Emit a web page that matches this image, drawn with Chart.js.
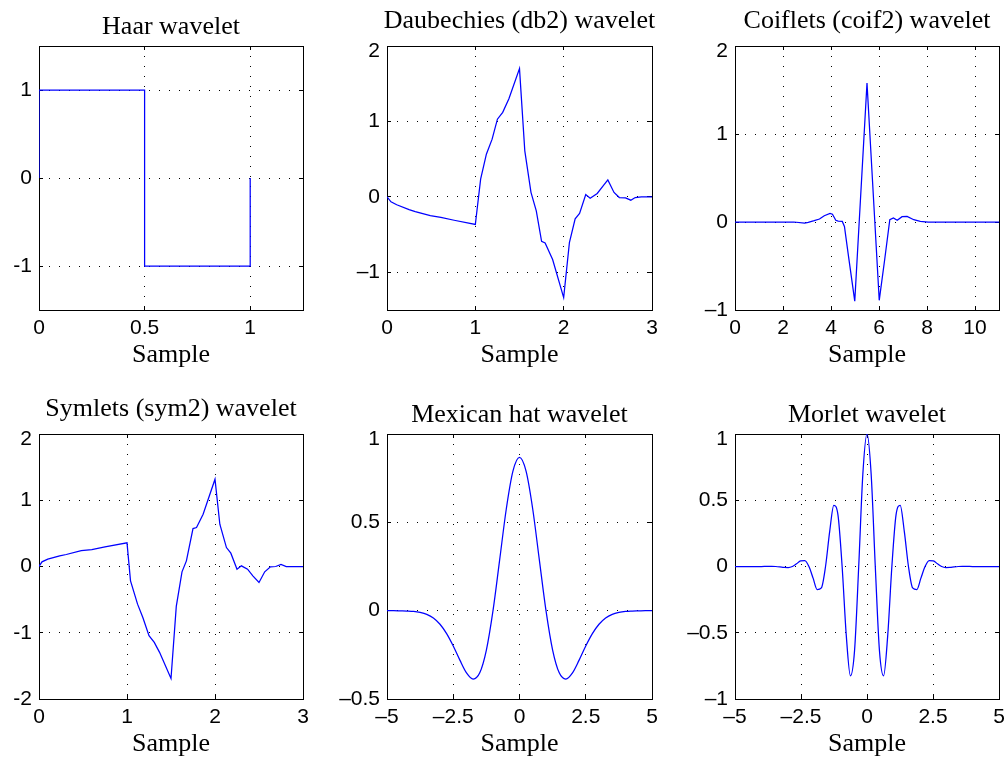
<!DOCTYPE html>
<html>
<head>
<meta charset="utf-8">
<title>Wavelet families</title>
<script src="https://cdn.jsdelivr.net/npm/chart.js"></script>
<style>
  html, body { margin: 0; padding: 0; background: #fff; width: 1006px; height: 760px; overflow: hidden; }
  canvas { position: absolute; }
</style>
</head>
<body>
<canvas id="haar"></canvas>
<canvas id="db2"></canvas>
<canvas id="coif2"></canvas>
<canvas id="sym2"></canvas>
<canvas id="mexh"></canvas>
<canvas id="morl"></canvas>
<script>
// ---- wavelet samples ----
const haarX = [0, 0, 0.5, 0.5, 1, 1];
const haarY = [0, 1, 1, -1, -1, 0];

const db2X = [0, 0.045, 0.11, 0.25, 0.32, 0.49, 0.61, 0.76, 1.0, 1.06, 1.125, 1.19, 1.25, 1.31, 1.38, 1.5,
              1.56, 1.63, 1.69, 1.75, 1.79, 1.875, 2.0, 2.065, 2.13, 2.18, 2.25, 2.3, 2.38, 2.44, 2.5,
              2.57, 2.63, 2.7, 2.76, 2.81, 2.88, 3.0];
const db2Y = [0, -0.066, -0.105, -0.17, -0.195, -0.25, -0.272, -0.31, -0.366, 0.235, 0.566, 0.765, 1.03, 1.12, 1.3, 1.7,
              0.61, 0.06, -0.186, -0.59, -0.61, -0.83, -1.335, -0.606, -0.29, -0.22, 0.03, -0.018, 0.045, 0.137, 0.225,
              0.058, -0.009, -0.013, -0.044, -0.009, 0, 0];

const coif2X = [0, 2.45, 2.9, 3.05, 3.3, 3.52, 3.72, 3.96, 4.06, 4.2, 4.3, 4.47, 4.56, 4.73, 4.99, 5.5,
                6.01, 6.24, 6.45, 6.6, 6.76, 6.96, 7.17, 7.45, 7.72, 8.05, 11];
const coif2Y = [0, 0, -0.012, -0.004, 0.015, 0.034, 0.071, 0.097, 0.088, 0.02, 0.01, 0.007, -0.05, -0.39, -0.9, 1.58,
                -0.89, -0.42, 0.026, 0.045, 0.019, 0.06, 0.064, 0.026, 0.007, 0, 0];

const sym2X = [0, 0.034, 0.1, 0.235, 0.31, 0.48, 0.6, 0.75, 1.0, 1.04, 1.12, 1.18, 1.25, 1.31, 1.37, 1.5,
               1.56, 1.625, 1.675, 1.75, 1.79, 1.865, 2.0, 2.055, 2.13, 2.18, 2.25, 2.3, 2.37, 2.43, 2.5,
               2.565, 2.63, 2.69, 2.75, 2.81, 3.0];
const sym2Y = [0, 0.07, 0.11, 0.161, 0.181, 0.241, 0.256, 0.296, 0.357, -0.216, -0.568, -0.77, -1.045, -1.146, -1.296, -1.69,
               -0.603, -0.08, 0.085, 0.573, 0.588, 0.789, 1.317, 0.638, 0.286, 0.201, -0.04, 0.01, -0.04, -0.141, -0.241,
               -0.08, -0.005, 0, 0.03, 0, 0];

const mexhX = [-5, -4.75, -4.5, -4.25, -4, -3.75, -3.5, -3.25, -3, -2.75, -2.5, -2.25, -2, -1.75, -1.5, -1.25, -1,
               -0.75, -0.5, -0.25, 0, 0.25, 0.5, 0.75, 1, 1.25, 1.5, 1.75, 2, 2.25, 2.5, 2.75, 3, 3.25, 3.5,
               3.75, 4, 4.25, 4.5, 4.75, 5];
const mexhY = [0, 0, -0.001, -0.002, -0.004, -0.01, -0.021, -0.042, -0.077, -0.13, -0.2, -0.28, -0.352, -0.387, -0.352, -0.223, 0,
               0.286, 0.574, 0.788, 0.867, 0.788, 0.574, 0.286, 0, -0.223, -0.352, -0.387, -0.352, -0.28, -0.2, -0.13, -0.077, -0.042, -0.021,
               -0.01, -0.004, -0.002, -0.001, 0, 0];

const morlX = [-5, -4.5, -4, -3.77, -3.613, -3.456, -3.299, -3.142, -2.985, -2.827, -2.67, -2.513, -2.356, -2.199,
               -2.042, -1.885, -1.728, -1.571, -1.414, -1.257, -1.1, -0.942, -0.785, -0.628, -0.471, -0.314, -0.157,
               0, 0.157, 0.314, 0.471, 0.628, 0.785, 0.942, 1.1, 1.257, 1.414, 1.571, 1.728, 1.885, 2.042, 2.199,
               2.356, 2.513, 2.67, 2.827, 2.985, 3.142, 3.299, 3.456, 3.613, 3.77, 4, 4.5, 5];
const morlY = [0, 0, 0, 0.001, 0.001, 0, -0.003, -0.007, -0.008, 0, 0.02, 0.043, 0.045, 0,
               -0.088, -0.175, -0.162, 0, 0.263, 0.462, 0.39, 0, -0.52, -0.825, -0.633, 0, 0.698,
               1, 0.698, 0, -0.633, -0.825, -0.52, 0, 0.39, 0.462, 0.263, 0, -0.162, -0.175, -0.088, 0,
               0.045, 0.043, 0.02, 0, -0.008, -0.007, -0.003, 0, 0.001, 0.001, 0, 0, 0];

// ---- tick values and labels ----
const haarXTicks = [0, 0.5, 1];          const haarXLabels = ['0', '0.5', '1'];
const haarYTicks = [-1, 0, 1];           const haarYLabels = ['-1', '0', '1'];
const db2XTicks = [0, 1, 2, 3];          const db2XLabels = ['0', '1', '2', '3'];
const db2YTicks = [-1, 0, 1, 2];         const db2YLabels = ['\u20131', '0', '1', '2'];
const coif2XTicks = [0, 2, 4, 6, 8, 10]; const coif2XLabels = ['0', '2', '4', '6', '8', '10'];
const coif2YTicks = [-1, 0, 1, 2];       const coif2YLabels = ['\u20131', '0', '1', '2'];
const sym2XTicks = [0, 1, 2, 3];         const sym2XLabels = ['0', '1', '2', '3'];
const sym2YTicks = [-2, -1, 0, 1, 2];    const sym2YLabels = ['-2', '-1', '0', '1', '2'];
const waveXTicks = [-5, -2.5, 0, 2.5, 5];
const waveXLabels = ['\u20135', '\u20132.5', '0', '2.5', '5'];
const mexhYTicks = [-0.5, 0, 0.5, 1];    const mexhYLabels = ['\u20130.5', '0', '0.5', '1'];
const morlYTicks = [-1, -0.5, 0, 0.5, 1]; const morlYLabels = ['\u20131', '\u20130.5', '0', '0.5', '1'];

// ---- layout ----
const PAD_TOP = 46, X_AXIS_H = 60, PAD_RIGHT = 16;
const TICK_FONT = { family: '"Liberation Sans", Arial, Helvetica, sans-serif', size: 21 };
const SERIF = '"Liberation Serif", "Times New Roman", serif';
const LINE_BLUE = '#0000ff';

// Box around the axes plus short inward tick marks on all four sides
const axesBox = {
  id: 'axesBox',
  beforeDatasetsDraw(chart) {
    const { ctx, chartArea: a, scales: { x, y } } = chart;
    const al = v => Math.round(v - 0.5) + 0.5;
    const len = 4;
    ctx.save();
    ctx.strokeStyle = '#000';
    ctx.lineWidth = 1;
    ctx.setLineDash([]);
    ctx.beginPath();
    x.ticks.forEach(t => {
      const px = al(x.getPixelForValue(t.value));
      ctx.moveTo(px, a.bottom); ctx.lineTo(px, a.bottom - len);
      ctx.moveTo(px, a.top); ctx.lineTo(px, a.top + len);
    });
    y.ticks.forEach(t => {
      const py = al(y.getPixelForValue(t.value));
      ctx.moveTo(a.left, py); ctx.lineTo(a.left + len, py);
      ctx.moveTo(a.right, py); ctx.lineTo(a.right - len, py);
    });
    ctx.stroke();
    ctx.strokeRect(a.left + 0.5, a.top + 0.5, a.right - a.left, a.bottom - a.top);
    ctx.restore();
  }
};

// Panel title, sitting higher when the text has descending glyphs
const panelTitle = {
  id: 'panelTitle',
  afterDraw(chart, args, opts) {
    const { ctx, chartArea: a } = chart;
    ctx.save();
    ctx.font = '26px ' + SERIF;
    ctx.fillStyle = '#000';
    ctx.textAlign = 'center';
    ctx.textBaseline = 'alphabetic';
    const m = ctx.measureText(opts.text);
    const raise = m.actualBoundingBoxDescent > 1 ? 18 : 12;
    ctx.fillText(opts.text, (a.left + a.right) / 2, a.top - raise);
    ctx.restore();
  }
};

function makeScale(isX, min, max, tickVals, tickLabels, axisWidth) {
  return {
    type: 'linear',
    min, max,
    afterBuildTicks(s) { s.ticks = tickVals.map(v => ({ value: v })); },
    afterFit(s) { if (isX) s.height = X_AXIS_H; else s.width = axisWidth; },
    ticks: {
      autoSkip: false, maxRotation: 0, minRotation: 0,
      color: '#000',
      padding: isX ? 6 : 7,
      font: isX ? TICK_FONT : (c) => (c.tick && c.tick.value === max ? Object.assign({}, TICK_FONT, { lineHeight: '10px' }) : TICK_FONT),
      callback(value) {
        const lbl = tickLabels[tickVals.indexOf(value)];
        return (!isX && value === max) ? ['', lbl] : lbl;
      }
    },
    grid: { color: '#000', lineWidth: 1, drawTicks: false },
    border: { display: false, dash: [1, 9] },
    title: isX
      ? { display: true, text: 'Sample', color: '#000', font: { family: SERIF, size: 26, lineHeight: 1 }, padding: { top: 0, bottom: 2 } }
      : { display: false }
  };
}

function panel(id, geom, title, xs, ys, smooth, xAxis, yAxis) {
  const cv = document.getElementById(id);
  cv.width = geom.yw + geom.pw + PAD_RIGHT;
  cv.height = PAD_TOP + geom.ph + X_AXIS_H;
  cv.style.left = geom.left + 'px';
  cv.style.top = geom.top + 'px';
  return new Chart(cv, {
    type: 'line',
    data: {
      datasets: [{
        data: xs.map((x, i) => ({ x, y: ys[i] })),
        borderColor: LINE_BLUE,
        borderWidth: 1.25,
        pointRadius: 0,
        fill: false,
        tension: 0,
        cubicInterpolationMode: smooth ? 'monotone' : 'default'
      }]
    },
    options: {
      responsive: false,
      animation: false,
      devicePixelRatio: 1,
      layout: { padding: { top: PAD_TOP, right: PAD_RIGHT, left: 0, bottom: 0 } },
      plugins: { legend: { display: false }, tooltip: { enabled: false }, title: { display: false }, panelTitle: { text: title } },
      scales: {
        x: makeScale(true, xAxis[0], xAxis[1], xAxis[2], xAxis[3]),
        y: makeScale(false, yAxis[0], yAxis[1], yAxis[2], yAxis[3], geom.yw)
      }
    },
    plugins: [axesBox, panelTitle]
  });
}

panel('haar',  { left: 0,   top: 0,   yw: 39, pw: 264, ph: 264 }, 'Haar wavelet', haarX, haarY, false,
      [0, 1.25, haarXTicks, haarXLabels], [-1.5, 1.5, haarYTicks, haarYLabels]);
panel('db2',   { left: 327, top: 0,   yw: 60, pw: 265, ph: 264 }, 'Daubechies (db2) wavelet', db2X, db2Y, false,
      [0, 3, db2XTicks, db2XLabels], [-1.5, 2, db2YTicks, db2YLabels]);
panel('coif2', { left: 675, top: 0,   yw: 60, pw: 264, ph: 264 }, 'Coiflets (coif2) wavelet', coif2X, coif2Y, false,
      [0, 11, coif2XTicks, coif2XLabels], [-1, 2, coif2YTicks, coif2YLabels]);
panel('sym2',  { left: 0,   top: 388, yw: 39, pw: 264, ph: 265 }, 'Symlets (sym2) wavelet', sym2X, sym2Y, false,
      [0, 3, sym2XTicks, sym2XLabels], [-2, 2, sym2YTicks, sym2YLabels]);
panel('mexh',  { left: 327, top: 388, yw: 60, pw: 265, ph: 265 }, 'Mexican hat wavelet', mexhX, mexhY, true,
      [-5, 5, waveXTicks, waveXLabels], [-0.5, 1, mexhYTicks, mexhYLabels]);
panel('morl',  { left: 675, top: 388, yw: 60, pw: 264, ph: 265 }, 'Morlet wavelet', morlX, morlY, true,
      [-5, 5, waveXTicks, waveXLabels], [-1, 1, morlYTicks, morlYLabels]);
</script>
</body>
</html>
